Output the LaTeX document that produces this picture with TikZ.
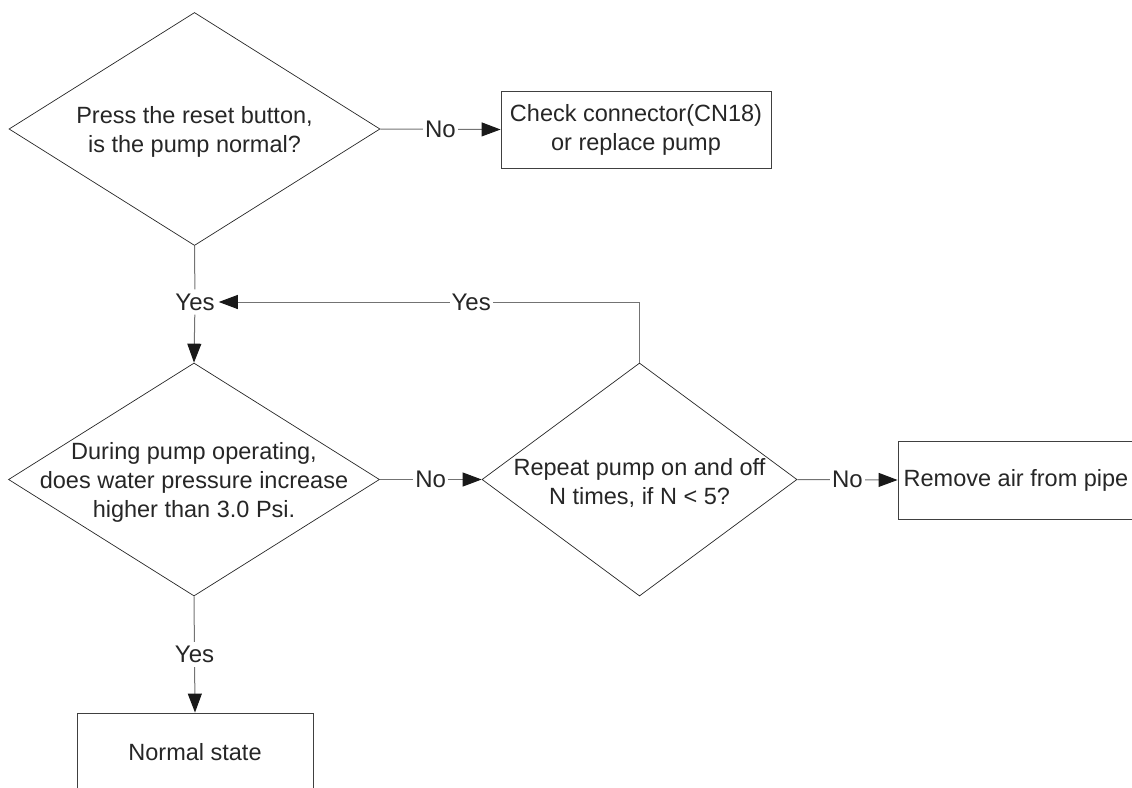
\documentclass[tikz,border=0pt]{standalone}
\usepackage{fontspec}
\setmainfont{Liberation Sans}
\usetikzlibrary{arrows.meta,shapes.geometric}

\begin{document}
\begin{tikzpicture}[x=1pt,y=-1pt,decision/.style={diamond,draw=black!85,line width=0.7pt,minimum width=371pt,minimum height=233pt,inner sep=0pt},qtext/.style={align=center,font=\fontsize{23.5}{29}\selectfont,text=black!85,yshift=-3pt},action/.style={draw=black!75,line width=0.9pt,align=center,minimum width=236pt,minimum height=78pt,font=\fontsize{23.5}{29}\selectfont,text=black!85},answer/.style={fill=white,inner sep=2pt,font=\fontsize{24}{29}\selectfont,text=black!85},arrow/.style={-{Triangle[length=19pt,width=14pt,color=black!90]},line width=1pt,draw=black!55}]
\clip (0,0) rectangle (1132,787);
\node[decision,label={[qtext]center:{Press the reset button,\\is the pump normal?}}] (q1) at (194.5,129) {};
\node[action,minimum width=270pt,minimum height=77pt] (fix) at (636,129.5) {Check connector(CN18)\\or replace pump};
\node[answer,inner sep=4pt] (yes1) at (195,302) {Yes};
\node[decision,label={[qtext]center:{During pump operating,\\does water pressure increase\\higher than 3.0 Psi.}}] (q2) at (194,479.5) {};
\node[decision,minimum width=315pt,label={[qtext]center:{Repeat pump on and off\\N times, if N < 5?}}] (q3) at (639.5,479.5) {};
\node[action] (air) at (1016,480) {Remove air from pipe};
\node[action] (ok) at (195,752) {Normal state};
\draw[arrow] (q1.east) -- node[answer]{No} (fix.west);
\draw[arrow,-] (q1.south) -- (yes1);
\draw[arrow] (yes1) -- (q2.north);
\draw[arrow] (q3.north) |- node[answer,pos=0.7]{Yes} (yes1.east);
\draw[arrow] (q2.east) -- node[answer]{No} (q3.west);
\draw[arrow] (q3.east) -- node[answer]{No} (air.west);
\draw[arrow] (q2.south) -- node[answer,inner sep=4pt]{Yes} (ok.north);
\end{tikzpicture}
\end{document}
